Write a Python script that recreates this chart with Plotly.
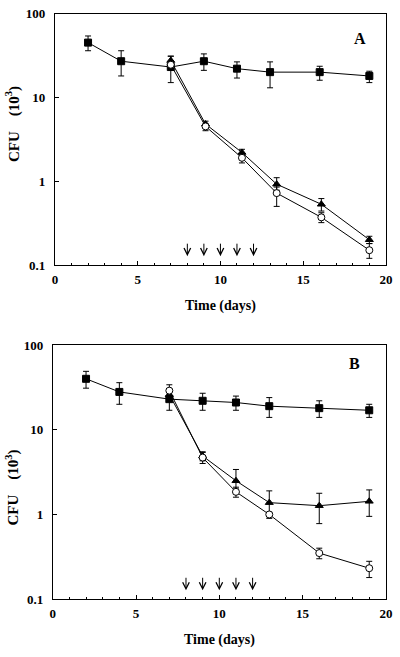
import plotly.graph_objects as go

# ---------------- data ----------------
# Panel A
a_ctrl_x = [2, 4, 7, 9, 11, 13, 16, 19]
a_ctrl_y = [45, 27, 23, 27, 22, 20, 20, 18]
a_ctrl_hi = [54, 36, 31, 33, 26.5, 26.5, 23.5, 20.5]
a_ctrl_lo = [36, 18, 15, 21, 17, 13, 16, 15]

a_tri_x = [7, 9.1, 11.3, 13.4, 16.1, 19]
a_tri_y = [27.5, 4.8, 2.2, 0.92, 0.53, 0.20]
a_tri_hi = [31, 5.2, 2.4, 1.1, 0.62, 0.22]
a_tri_lo = [24, 4.4, 2.0, 0.78, 0.44, 0.18]

a_circ_x = [7, 9.1, 11.3, 13.4, 16.1, 19]
a_circ_y = [24.5, 4.5, 1.9, 0.72, 0.37, 0.15]
a_circ_hi = [27, 4.8, 2.1, 0.85, 0.42, 0.18]
a_circ_lo = [22, 4.0, 1.65, 0.50, 0.32, 0.12]

# Panel B
b_ctrl_x = [2, 4, 7, 9, 11, 13, 16, 19]
b_ctrl_y = [40, 28, 23, 22, 21, 19, 18, 17]
b_ctrl_hi = [49, 36, 29, 27, 25, 24, 22, 20]
b_ctrl_lo = [31, 20, 17, 17, 17, 14, 14, 14]

b_tri_x = [7, 9, 11, 13, 16, 19]
b_tri_y = [26, 4.9, 2.5, 1.38, 1.27, 1.43]
b_tri_hi = [30, 5.5, 3.4, 1.9, 1.78, 1.95]
b_tri_lo = [22, 4.3, 2.0, 1.02, 0.78, 0.95]

b_circ_x = [7, 9, 11, 13, 16, 19]
b_circ_y = [29, 4.7, 1.85, 1.0, 0.35, 0.232]
b_circ_hi = [34, 5.4, 2.1, 1.06, 0.40, 0.28]
b_circ_lo = [24, 4.0, 1.6, 0.9, 0.30, 0.18]

arrow_days = [8, 9, 10, 11, 12]
y_tickvals = [0.1, 1, 10, 100]
y_ticktext = ["0.1", "1", "10", "100"]
x_tickvals = [0, 5, 10, 15, 20]
panel_labels = ["A", "B"]

FONT = "Liberation Serif"
W, H = 400, 657

fig = go.Figure()


def add_series(x, y, hi, lo, symbol, fill, xa, ya):
    fig.add_trace(go.Scatter(
        x=x, y=y, mode="lines+markers", xaxis=xa, yaxis=ya,
        line=dict(color="black", width=1),
        marker=dict(symbol=symbol, size=7, color=fill,
                    line=dict(color="black", width=1)),
        error_y=dict(type="data", symmetric=False,
                     array=[h - v for h, v in zip(hi, y)],
                     arrayminus=[v - l for v, l in zip(y, lo)],
                     color="black", thickness=1, width=3),
        showlegend=False, cliponaxis=False))


add_series(a_ctrl_x, a_ctrl_y, a_ctrl_hi, a_ctrl_lo, "square", "black", "x", "y")
add_series(a_tri_x, a_tri_y, a_tri_hi, a_tri_lo, "triangle-up", "black", "x", "y")
add_series(a_circ_x, a_circ_y, a_circ_hi, a_circ_lo, "circle", "white", "x", "y")

add_series(b_ctrl_x, b_ctrl_y, b_ctrl_hi, b_ctrl_lo, "square", "black", "x2", "y2")
add_series(b_tri_x, b_tri_y, b_tri_hi, b_tri_lo, "triangle-up", "black", "x2", "y2")
add_series(b_circ_x, b_circ_y, b_circ_hi, b_circ_lo, "circle", "white", "x2", "y2")

# domains (pixel -> paper)
A_x = [53.3 / W, 392.7 / W]
A_y = [1 - 264 / H, 1 - 6.7 / H]
B_x = [51 / W, 392.7 / W]
B_y = [1 - 606 / H, 1 - 346 / H]

tickfont = dict(family=FONT, size=13, color="black", weight="bold")

common_x = dict(range=[0, 20], tickvals=x_tickvals, ticks="inside", ticklen=4,
                tickcolor="black", showline=True, linecolor="black", linewidth=1,
                mirror=True, showgrid=False, zeroline=False,
                tickfont=tickfont, ticklabelstandoff=2, ticklabeloverflow="allow",
                minor=dict(dtick=1, ticks="inside", ticklen=2, tickcolor="black",
                           showgrid=False))
common_y = dict(type="log", range=[-1, 2], tickvals=y_tickvals, ticktext=y_ticktext,
                ticks="inside", ticklen=4, tickcolor="black", showline=True,
                linecolor="black", linewidth=1, mirror=True, showgrid=False,
                zeroline=False, tickfont=tickfont, ticklabelstandoff=6,
                ticklabeloverflow="allow")

fig.update_layout(
    width=W, height=H,
    margin=dict(l=0, r=0, t=0, b=0),
    paper_bgcolor="white", plot_bgcolor="white",
    xaxis=dict(domain=A_x, anchor="y", **common_x),
    yaxis=dict(domain=A_y, anchor="x", **common_y),
    xaxis2=dict(domain=B_x, anchor="y2", **common_x),
    yaxis2=dict(domain=B_y, anchor="x2", **common_y),
)

NB = "\u00a0"
annotations = []
for xr, yr, dom_x, dom_y, lab, ty_px, xt_px, lab_px in [
    ("x", "y", A_x, A_y, panel_labels[0], 120, 308, (366, 32)),
    ("x2", "y2", B_x, B_y, panel_labels[1], 492, 650, (361, 365)),
]:
    for d in arrow_days:
        annotations.append(dict(
            x=d, xref=xr, y=0.035, yref=yr + " domain",
            ax=0, ay=-14, axref="pixel", ayref="pixel",
            text="", showarrow=True, arrowhead=5, arrowsize=1.3,
            arrowwidth=1, arrowcolor="black"))
    annotations.append(dict(
        x=lab_px[0] / W, y=1 - lab_px[1] / H, xref="paper", yref="paper",
        xanchor="center", yanchor="middle",
        text="<b>" + lab + "</b>", showarrow=False,
        font=dict(family=FONT, size=16, color="black")))
    annotations.append(dict(
        x=10 / W, y=1 - ty_px / H, xref="paper", yref="paper",
        xanchor="center", yanchor="middle",
        text="<b>CFU" + NB * 4 + "(10<sup>3</sup>)</b>", textangle=-90,
        showarrow=False,
        font=dict(family=FONT, size=15, color="black")))
    annotations.append(dict(
        x=(dom_x[0] + dom_x[1]) / 2, y=1 - (xt_px + 8) / H, xref="paper", yref="paper",
        xanchor="center", yanchor="bottom",
        text="<b>Time (days)</b>", showarrow=False,
        font=dict(family=FONT, size=14, color="black")))

fig.update_layout(annotations=annotations)

fig.write_html("out.html", config={"displayModeBar": False},
               post_script="document.body.style.margin='0';document.body.style.padding='0';")
